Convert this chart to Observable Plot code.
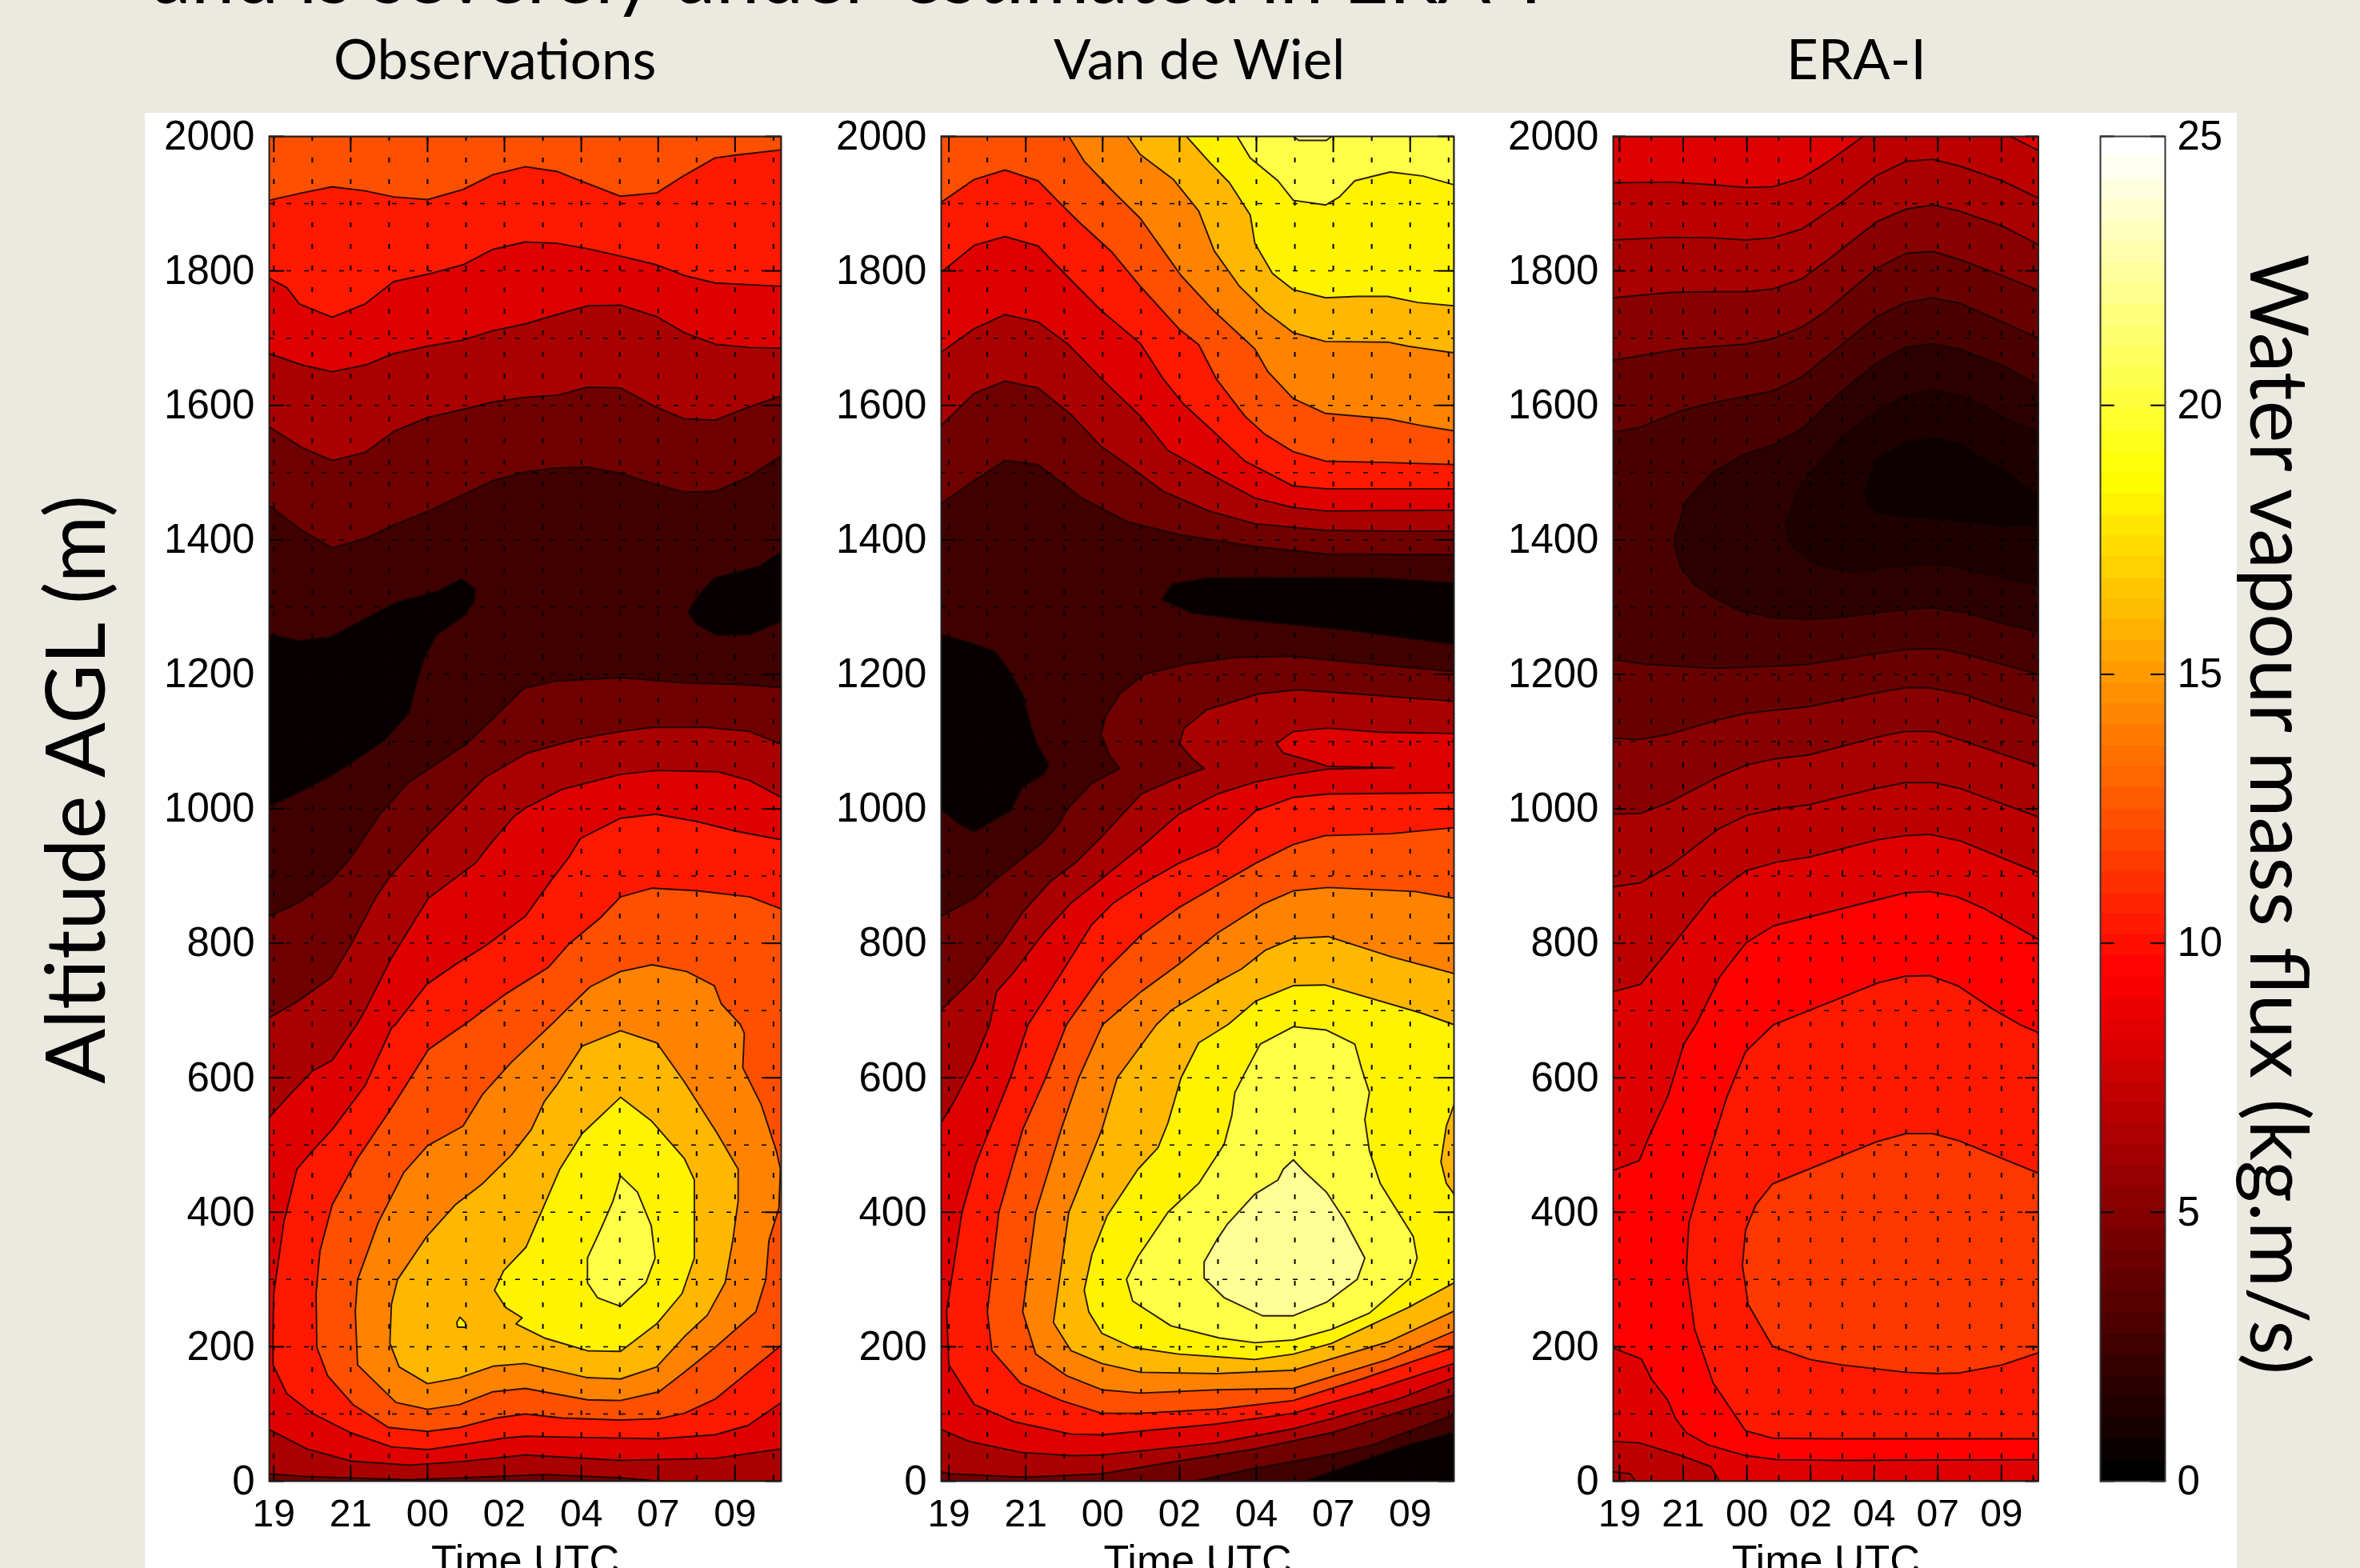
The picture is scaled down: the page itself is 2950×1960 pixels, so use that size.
<!DOCTYPE html>
<html><head><meta charset="utf-8">
<script src="https://cdn.jsdelivr.net/npm/d3@7"></script>
<script src="https://cdn.jsdelivr.net/npm/@observablehq/plot@0.6"></script>
<style>
html,body{margin:0;padding:0;width:2950px;height:1960px;overflow:hidden;background:#eceae0;}
#page{position:relative;width:2950px;height:1960px;overflow:hidden;}
#sheet{position:absolute;left:181px;top:141px;width:2615px;height:1819px;background:#fff;}
.t{position:absolute;font-family:Lato,sans-serif;color:#000;white-space:nowrap;line-height:1;}
.panel{position:absolute;top:141px;filter:blur(0.7px);}
</style></head><body><div id="page"><div id="sheet"></div></div>
<script>
// axis labels
const timeLabels = ["19","21","00","02","04","07","09"];
const timeTicks = [0,1,2,3,4,5,6];
const halfTicks = [0,.5,1,1.5,2,2.5,3,3.5,4,4.5,5,5.5,6,6.5];
const altTicks = [0,200,400,600,800,1000,1200,1400,1600,1800,2000];
const altGrid = [100,200,300,400,500,600,700,800,900,1000,1100,1200,1300,1400,1500,1600,1700,1800,1900];
const barTicks = [0,5,10,15,20,25];

// flux level (colour value) of each filled band
const obsLevels = {black:.3, l2:2.35, l4:4.1, l6:6.25, l8:8.2, l10:10.3, l12:12.3, l14:14.2, l16:16.1, l18:18.3, l20:20.5, l22:22.4};
const eraLevels = {a:.55, b:1.1, c:1.65, d:2.75, e:3.85, f:5, g:6.25, h:6.9, i:8.2, j:9.4, k:10.3, m:11.4};

// Observations: isolines as [time tick, altitude m]
const obsBlobA = [[-.06,1259],[.34,1250],[.745,1256],[1.13,1279],[1.51,1302],[1.625,1308],[2.12,1323],[2.44,1342],[2.62,1327],[2.6,1307],[2.46,1286],[2.12,1259],[1.96,1225],[1.87,1193],[1.76,1143],[1.44,1102],[1.08,1074],[.77,1051],[.32,1024],[-.06,1004]];
const obsBlobB = [[6.6,1382],[6.32,1361],[5.73,1343],[5.51,1316],[5.39,1293],[5.49,1275],[5.76,1258],[6.19,1259],[6.6,1279]];
const obsU12 = [[-.06,1905],[.365,1916],[.76,1925],[1.19,1919],[1.56,1910],[2,1906],[2.46,1921],[2.85,1943],[3.27,1955],[3.68,1948],[4.08,1930],[4.51,1911],[4.98,1916],[5.34,1942],[5.74,1968],[6,1972],[6.6,1980]];
const obsU10 = [[-.06,1789],[.17,1775],[.33,1751],[.76,1731],[1.19,1751],[1.56,1784],[2,1795],[2.46,1809],[2.85,1832],[3.27,1843],[3.68,1841],[4.08,1833],[4.51,1822],[4.98,1809],[5.34,1793],[5.74,1782],[6.6,1777]];
const obsU8 = [[-.06,1677],[.365,1660],[.76,1650],[1.19,1660],[1.56,1677],[2,1688],[2.46,1697],[2.85,1711],[3.27,1721],[3.68,1735],[4.08,1748],[4.51,1749],[4.98,1732],[5.34,1708],[5.74,1691],[6.17,1686],[6.6,1685]];
const obsU6 = [[-.06,1568],[.365,1537],[.76,1518],[1.19,1530],[1.56,1561],[2,1582],[2.46,1594],[2.85,1605],[3.27,1612],[3.68,1615],[4.08,1627],[4.51,1626],[4.98,1597],[5.34,1580],[5.74,1578],[6.17,1597],[6.6,1614]];
const obsU4 = [[-.06,1451],[.365,1414],[.76,1388],[1.19,1402],[1.56,1422],[2,1442],[2.46,1467],[2.85,1488],[3.27,1501],[3.68,1507],[4.08,1508],[4.51,1499],[4.98,1482],[5.34,1471],[5.74,1472],[6.17,1493],[6.6,1525]];
const obsL4 = [[-.06,840],[.316,860],[.745,894],[.993,926],[1.38,992],[1.76,1040],[2.12,1067],[2.51,1097],[2.84,1133],[3.25,1179],[3.66,1190],[4.51,1195],[5.37,1187],[6.09,1185],[6.6,1180]];
const obsL6top = [[-.06,689],[.316,714],[.745,749],[.993,796],[1.33,869],[1.51,899],[1.99,960],[2.35,1001],[2.75,1047],[3.3,1083],[3.97,1104],[4.51,1115],[4.92,1121],[5.64,1121],[6.19,1115],[6.6,1096]];
const obsL6bottom = [[5.01,0],[4.51,5],[3.52,10],[2.46,5],[1.76,2],[.43,7],[-.06,11]];
const obsL8top = [[-.06,541],[.17,570],[.5,610],[.76,626],[1,666],[1.08,679],[1.2,703],[1.53,778],[2.01,867],[2.62,919],[2.84,951],[3.12,988],[3.27,1001],[3.75,1029],[4.51,1051],[4.97,1057],[5.78,1055],[6.19,1042],[6.6,1017]];
const obsL8bottom = [[6.6,48],[5.74,34],[4.51,31],[3.27,39],[2.42,29],[1.76,24],[1,30],[.43,48],[-.06,77]];
const obsL10 = [[6.6,954],[6,967],[5.51,981],[4.97,992],[4.51,986],[3.99,956],[3.84,928],[3.61,894],[3.27,840],[2.75,796],[2.37,769],[1.99,739],[1.58,679],[1.53,674],[1.19,589],[.76,523],[.5,491],[.3,464],[.13,385],[0,279],[-.01,226],[-.01,173],[.17,130],[.5,101],[1,72],[1.53,51],[2,47],[2.49,55],[2.99,64],[3.27,67],[4.01,65],[5.01,63],[5.74,69],[6.17,83],[6.6,117]];
const obsL12 = [[6.6,851],[6.19,869],[5.51,878],[4.92,882],[4.51,869],[4.24,837],[3.84,799],[3.57,764],[3.02,725],[2.48,679],[2.01,642],[1.82,607],[1.56,560],[1.09,480],[.76,411],[.6,342],[.55,279],[.56,199],[.7,157],[1.03,114],[1.49,80],[2,74],[2.42,80],[2.89,94],[3.27,100],[3.75,94],[4.51,91],[5.01,93],[5.34,101],[5.74,122],[6.17,162],[6.6,202]];
const obsL14 = [[3.61,679],[3.09,623],[2.72,576],[2.46,528],[2,499],[1.69,459],[1.36,385],[1.09,300],[1.06,252],[1.09,173],[1.59,117],[2,107],[2.42,114],[2.85,133],[3.27,138],[4.08,121],[4.51,120],[5.01,133],[5.34,162],[5.74,199],[6.27,252],[6.4,300],[6.44,358],[6.57,406],[6.59,464],[6.54,490],[6.34,560],[6.1,615],[6.12,666],[6.07,679],[5.82,710],[5.73,737],[5.37,758],[4.92,768],[4.51,758],[4.11,735],[3.84,705],[3.61,679]];
const obsL16 = [[4.51,670],[4.98,652],[5.34,594],[5.77,517],[6.04,464],[6.04,417],[5.97,358],[5.87,295],[5.64,247],[5.34,215],[4.98,170],[4.51,152],[4.08,154],[3.27,175],[2.85,171],[2.42,154],[2,145],[1.63,170],[1.51,205],[1.53,263],[1.61,300],[1.99,364],[2.36,411],[2.72,443],[3.09,485],[3.35,523],[3.52,565],[3.68,589],[4.01,647],[4.51,670]];
const obsSpot = [[2.38,236],[2.42,244],[2.49,236],[2.5,229],[2.39,229],[2.38,236]];
const obsL18 = [[4.51,571],[4.91,536],[5.34,480],[5.47,448],[5.47,332],[5.31,279],[4.98,234],[4.51,193],[4.08,194],[3.52,213],[3.15,234],[3.23,243],[3.02,258],[2.87,284],[2.99,313],[3.28,348],[3.52,411],[3.72,464],[4.01,517],[4.51,571]];
const obsL20 = [[4.51,454],[4.73,430],[4.91,380],[4.96,332],[4.84,295],[4.51,260],[4.21,273],[4.08,295],[4.08,332],[4.25,374],[4.41,416],[4.51,454]];

// Van de Wiel
const vdwBlobA = [[6.57,1336],[5.61,1343],[4.48,1344],[3.35,1343],[2.9,1334],[2.77,1311],[3.17,1291],[3.8,1282],[5.16,1266],[6.57,1245]];
const vdwBlobB = [[-.1,1259],[.28,1247],[.6,1234],[.78,1206],[.96,1170],[1.05,1129],[1.14,1097],[1.3,1065],[1.23,1051],[.96,1033],[.8,997],[.33,966],[.15,976],[-.1,999]];
const vdwBlobC = [[6.57,72],[5.97,54],[4.98,14],[4.64,0]];
const vdwU22 = [[4.48,2000],[4.55,1994],[4.91,1994],[4.98,2000]];
const vdwU20 = [[3.75,2000],[3.92,1968],[4.28,1934],[4.48,1905],[4.9,1898],[5.08,1910],[5.28,1934],[5.74,1947],[6.17,1941],[6.57,1928]];
const vdwU18 = [[3.09,2000],[3.38,1963],[3.65,1931],[3.92,1883],[3.98,1841],[4.21,1796],[4.48,1772],[4.9,1760],[5.31,1762],[5.71,1762],[6.1,1753],[6.57,1748]];
const vdwU16 = [[2.32,2000],[2.49,1973],[2.92,1936],[3.25,1889],[3.45,1830],[3.78,1777],[4.11,1740],[4.48,1708],[4.9,1695],[5.71,1694],[5.97,1688],[6.57,1678]];
const vdwU14 = [[1.56,2000],[1.76,1963],[2.12,1920],[2.49,1878],[2.79,1830],[3.02,1793],[3.45,1740],[3.98,1684],[4.15,1650],[4.48,1610],[4.9,1588],[5.71,1580],[6.14,1570],[6.57,1562]];
const vdwU12 = [[-.1,1902],[.33,1936],[.73,1950],[1.16,1934],[1.46,1899],[1.69,1873],[2.12,1828],[2.49,1777],[2.99,1714],[3.25,1690],[3.48,1639],[3.85,1584],[4.11,1557],[4.48,1531],[4.9,1517],[5.71,1515],[6.57,1512]];
const vdwU10 = [[-.1,1798],[.33,1838],[.73,1851],[1.16,1837],[1.53,1793],[1.99,1740],[2.49,1692],[2.79,1639],[3.05,1602],[3.45,1560],[3.85,1517],[4.48,1480],[4.9,1476],[6.57,1476]];
const vdwU8 = [[-.1,1679],[.33,1714],[.73,1735],[1.16,1724],[1.56,1690],[1.99,1639],[2.49,1584],[2.85,1533],[3.38,1499],[3.98,1462],[4.48,1448],[4.9,1443],[6.57,1444]];
const vdwU6 = [[-.1,1570],[.33,1618],[.73,1636],[1.16,1626],[1.59,1586],[1.99,1538],[2.32,1512],[2.79,1472],[3.38,1443],[3.98,1424],[4.9,1414],[5.71,1413],[6.57,1413]];
const vdwU4 = [[-.1,1454],[.33,1488],[.73,1518],[1.16,1512],[1.73,1462],[2.32,1427],[2.99,1408],[3.98,1390],[4.9,1379],[6.57,1378]];
const vdwL4 = [[-.1,840],[.33,867],[.65,899],[1.23,951],[1.44,979],[1.55,1001],[1.86,1038],[2.22,1060],[2.09,1079],[1.98,1111],[2.04,1138],[2.23,1172],[2.54,1200],[3.08,1215],[3.72,1225],[4.44,1227],[5.16,1219],[6.57,1204],[6.57,99],[5.51,54],[4.98,40],[3.98,19],[3.19,0]];
const vdwL6 = [[-.1,701],[.33,749],[.69,801],[.96,846],[1.32,892],[1.64,919],[2,960],[2.5,1022],[2.9,1042],[3.32,1060],[3.17,1074],[3,1097],[3.06,1120],[3.35,1147],[4.03,1171],[4.53,1177],[5.16,1172],[6.57,1160],[6.57,128],[5.97,107],[4.98,72],[3.98,48],[2.99,30],[1.99,11],[1,6],[0,11],[-.1,14]];
const vdwL8 = [[-.1,533],[.07,565],[.33,623],[.53,679],[.62,728],[.83,755],[1.23,815],[1.59,860],[2,897],[2.54,947],[2.99,992],[3.49,1022],[3.99,1040],[4.48,1051],[4.93,1059],[5.79,1061],[4.93,1063],[4.75,1070],[4.35,1083],[4.26,1097],[4.48,1115],[4.93,1120],[5.61,1114],[6.57,1112],[6.57,154],[5.84,122],[4.98,93],[4.48,78],[3.48,57],[1.99,39],[1.59,38],[.93,43],[.27,59],[-.1,77]];
const vdwL10 = [[6.57,1024],[4.93,1022],[4.48,1017],[3.99,997],[3.49,944],[2.99,919],[2.5,887],[2.14,860],[1.86,828],[1.46,755],[1.03,679],[.8,600],[.36,475],[.17,400],[-.03,252],[0,173],[.33,114],[.86,88],[1.59,70],[1.99,69],[3.48,85],[4.48,101],[5.37,130],[6.57,175]];
const vdwL12 = [[6.57,972],[5.75,963],[4.89,960],[4.48,947],[3.99,919],[2.99,853],[2.5,812],[2,755],[1.53,679],[1.26,600],[.96,523],[.65,400],[.5,252],[.56,194],[.93,146],[1.46,120],[1.99,101],[2.49,101],[3.48,107],[4.48,120],[5.37,152],[6.57,199]];
const vdwL14 = [[6.57,867],[6.06,877],[4.93,883],[4.48,878],[4.08,858],[3.49,815],[2.99,769],[2.5,728],[2,679],[1.69,600],[1.46,523],[1.13,400],[.96,252],[1.13,189],[1.53,157],[1.99,136],[2.49,131],[3.48,136],[4.48,138],[5.71,181],[6.57,223]];
const vdwL16 = [[6.57,755],[5.75,780],[4.93,810],[4.48,807],[4.12,790],[3.81,762],[3.49,742],[2.9,701],[2.7,679],[2.19,600],[1.99,523],[1.56,400],[1.36,236],[1.59,194],[1.99,175],[2.49,162],[3.48,160],[4.48,165],[5.71,207],[6.57,253]];
const vdwL18 = [[6.57,679],[6.15,696],[4.89,738],[4.48,737],[3.99,714],[3.63,679],[3.25,652],[3.02,600],[2.85,533],[2.72,496],[2.46,464],[2.06,395],[1.86,337],[1.76,284],[1.82,252],[1.99,220],[2.39,199],[2.99,189],[3.98,181],[4.48,189],[4.98,205],[5.97,258],[6.57,295]];
const vdwNotch = [[6.57,560],[6.47,528],[6.42,491],[6.4,475],[6.47,443],[6.57,427]];
const vdwL20 = [[4.48,676],[4.91,671],[5.28,650],[5.37,613],[5.47,578],[5.41,538],[5.47,491],[5.61,443],[6.04,364],[6.09,332],[6.01,303],[5.47,250],[4.98,226],[4.48,210],[3.98,206],[3.52,213],[2.89,231],[2.39,268],[2.31,300],[2.46,334],[2.85,400],[3.25,443],[3.58,501],[3.68,544],[3.72,578],[3.85,607],[4.05,650],[4.48,676]];
const vdwL22 = [[4.48,478],[4.61,462],[4.91,430],[5.14,390],[5.41,332],[5.31,300],[4.91,266],[4.48,246],[4.08,246],[3.58,273],[3.32,302],[3.32,326],[3.48,358],[3.62,382],[3.98,427],[4.28,448],[4.35,464],[4.48,478]];

// ERA-I
const eraTop1 = [[-.1,1931],[.8,1932],[1.47,1928],[1.98,1924],[2.4,1925],[2.86,1938],[3.24,1960],[3.83,2000]];
const eraTop2 = [[6.14,2000],[6.58,1979]];
const eraU2 = [[-.1,1846],[.8,1850],[1.47,1849],[1.98,1846],[2.4,1849],[2.86,1862],[3.49,1902],[4.04,1942],[4.5,1963],[4.92,1966],[5.34,1956],[6.01,1934],[6.58,1908]];
const eraU3 = [[-.1,1760],[.8,1768],[1.47,1769],[1.98,1769],[2.4,1773],[2.86,1788],[3.24,1814],[4.04,1873],[4.5,1892],[4.92,1898],[5.34,1889],[6.01,1867],[6.58,1839]];
const eraU4 = [[-.1,1667],[.97,1684],[1.98,1691],[2.4,1699],[2.86,1716],[3.24,1740],[4.04,1804],[4.5,1826],[4.92,1829],[5.34,1817],[6.01,1793],[6.58,1771]];
const eraU5 = [[-.1,1560],[.31,1567],[.97,1592],[1.47,1604],[2.4,1621],[2.86,1642],[3.49,1690],[4.04,1732],[4.5,1753],[4.92,1760],[5.34,1752],[6.01,1724],[6.58,1700]];
const eraL5 = [[-.1,1222],[.41,1215],[1.5,1209],[2.42,1212],[2.97,1215],[4.06,1231],[4.49,1237],[5.04,1238],[5.47,1229],[6.58,1200]];
const eraL4 = [[-.1,1105],[.3,1103],[.79,1111],[1.5,1131],[1.99,1142],[2.97,1152],[4.06,1173],[4.49,1180],[4.87,1180],[5.42,1170],[5.96,1152],[6.58,1135]];
const eraL3 = [[-.1,992],[.33,993],[.79,1010],[1.5,1045],[1.99,1065],[2.42,1074],[2.97,1080],[4.06,1107],[4.49,1115],[4.93,1115],[5.47,1099],[6.58,1063]];
const eraL2 = [[-.1,884],[.33,890],[.79,915],[1.55,970],[1.99,990],[2.48,1000],[2.97,1006],[4.06,1031],[4.49,1039],[4.93,1039],[5.36,1030],[6.58,988]];
const eraCorner2 = [[.25,0],[.17,11],[-.1,14]];
const eraL1 = [[-.1,728],[.33,739],[.73,785],[1.44,869],[1.99,908],[2.48,921],[2.97,928],[4.06,954],[4.49,960],[4.87,962],[5.36,952],[6.58,905]];
const eraCorner1 = [[1.57,0],[1.43,22],[.97,38],[.31,57],[-.1,59]];
const eraRed = [[-.1,462],[.31,477],[.46,512],[.76,573],[1.01,650],[1.2,679],[1.58,751],[1.99,801],[2.42,826],[4.06,865],[4.49,875],[4.87,877],[5.31,869],[5.74,851],[6.58,806],[6.58,32],[3.49,31],[2.48,32],[1.98,38],[1.39,54],[1.05,72],[.88,93],[.76,120],[.5,152],[.34,182],[-.1,198]];
const eraOrange1 = [[6.58,667],[6.29,679],[5.85,703],[5.31,737],[4.87,752],[4.49,751],[4.06,741],[2.42,679],[1.98,639],[1.68,570],[1.35,470],[1.09,385],[1.05,316],[1.18,226],[1.47,146],[1.98,75],[2.4,64],[3.49,63],[6.58,63]];
const eraOrange2 = [[6.58,458],[6.01,480],[5.34,506],[4.92,517],[4.5,517],[4.04,505],[2.4,442],[2.14,411],[1.98,374],[1.93,321],[2.02,263],[2.4,201],[2.99,181],[3.49,173],[4.5,162],[5,160],[5.34,161],[6.01,173],[6.58,191]];
const eraDark1 = [[6.58,1630],[6.01,1660],[5.34,1684],[4.92,1692],[4.5,1687],[4.04,1663],[3.49,1621],[2.86,1565],[2.4,1541],[1.98,1528],[1.47,1501],[1.05,1459],[.87,1406],[.86,1393],[.95,1361],[1.17,1334],[1.5,1313],[1.88,1295],[2.42,1284],[2.97,1282],[3.51,1285],[4.06,1292],[4.6,1297],[4.87,1299],[5.42,1292],[5.96,1277],[6.58,1263]];
const eraDark2 = [[6.58,1560],[6.01,1584],[5.34,1615],[4.92,1623],[4.5,1615],[4.04,1592],[3.49,1554],[2.82,1480],[2.61,1422],[2.67,1393],[2.97,1370],[3.29,1357],[3.67,1353],[4.06,1357],[4.49,1361],[4.87,1364],[5.25,1360],[5.96,1345],[6.58,1332]];
const eraDark3 = [[3.83,1469],[4.04,1523],[4.5,1546],[4.92,1553],[5.34,1544],[6.01,1507],[6.58,1467],[6.58,1422],[6.14,1419],[4.92,1430],[4.04,1438],[3.87,1454],[3.83,1469]];

// hot colour map
const hotDomain = [0,9.375,18.75,25];
const hotRange = ["#000000","#ff0000","#ffff00","#ffffff"];
const colorOpt = {type:"linear",domain:hotDomain,range:hotRange,clamp:true};

const altTop = 2000, altBot = 0;
function corners(d){return {TL:[d[0],altTop],TR:[d[1],altTop],BL:[d[0],altBot],BR:[d[1],altBot]};}
const d1=[-.06,6.6], d2=[-.1,6.57], d3=[-.1,6.58];
const c1=corners(d1), c2=corners(d2), c3=corners(d3);
const O=obsLevels, E=eraLevels;
const obsPolys = [
 [O.l2,[c1.BL,c1.TL,c1.TR,c1.BR]],
 [O.black,obsBlobA],[O.black,obsBlobB],
 [O.l4,[...obsU4,c1.TR,c1.TL]],[O.l4,[...obsL4,c1.BR,c1.BL]],
 [O.l6,[...obsU6,c1.TR,c1.TL]],[O.l6,[...obsL6top,c1.BR,...obsL6bottom]],
 [O.l8,[...obsU8,c1.TR,c1.TL]],[O.l8,[...obsL8top,...obsL8bottom]],
 [O.l10,[...obsU10,c1.TR,c1.TL]],[O.l10,obsL10],
 [O.l12,[...obsU12,c1.TR,c1.TL]],[O.l12,obsL12],
 [O.l14,obsL14],[O.l16,obsL16],[O.l18,obsSpot],[O.l18,obsL18],[O.l20,obsL20]
];
const vdwPolys = [
 [O.l2,[c2.BL,c2.TL,c2.TR,c2.BR]],
 [O.black,vdwBlobA],[O.black,vdwBlobB],[O.black,[...vdwBlobC,c2.BR]],
 [O.l4,[...vdwU4,c2.TR,c2.TL]],[O.l4,[...vdwL4,c2.BL]],
 [O.l6,[...vdwU6,c2.TR,c2.TL]],[O.l6,vdwL6],
 [O.l8,[...vdwU8,c2.TR,c2.TL]],[O.l8,vdwL8],
 [O.l10,[...vdwU10,c2.TR,c2.TL]],[O.l10,vdwL10],
 [O.l12,[...vdwU12,c2.TR,c2.TL]],[O.l12,vdwL12],
 [O.l14,[...vdwU14,c2.TR]],[O.l14,vdwL14],
 [O.l16,[...vdwU16,c2.TR]],[O.l16,vdwL16],
 [O.l18,[...vdwU18,c2.TR]],[O.l18,vdwL18],
 [O.l16,vdwNotch],
 [O.l20,[...vdwU20,c2.TR]],[O.l20,vdwL20],
 [O.l22,vdwU22],[O.l22,vdwL22]
];
const eraPolys = [
 [E.d,[c3.BL,c3.TL,c3.TR,c3.BR]],
 [E.e,[...eraU5,c3.TR,c3.TL]],[E.e,[...eraL5,c3.BR,c3.BL]],
 [E.f,[...eraU4,c3.TR,c3.TL]],[E.f,[...eraL4,c3.BR,c3.BL]],
 [E.g,[...eraU3,c3.TR,c3.TL]],[E.g,[...eraL3,c3.BR,c3.BL]],
 [E.h,[...eraU2,c3.TR,c3.TL]],[E.h,[...eraL2,c3.BR,...eraCorner2]],
 [E.i,[...eraTop1,c3.TL]],[E.i,[...eraTop2,c3.TR]],[E.i,[...eraL1,c3.BR,...eraCorner1]],
 [E.j,eraRed],[E.k,eraOrange1],[E.m,eraOrange2],
 [E.c,eraDark1],[E.b,eraDark2],[E.a,eraDark3]
];
function rows(polys){const out=[];polys.forEach(([level,pts],i)=>pts.forEach(([t,a])=>out.push({t,a,level,poly:i})));return out;}

const fontTicks = "Liberation Sans";
function panel(polys,domain,left,width){
  const mL=170, mT=29, H=1819;
  const svg = Plot.plot({
    width:width+mL+2,height:H,marginLeft:mL,marginRight:2,marginTop:mT,marginBottom:H-mT-1681,
    x:{domain,axis:null}, y:{domain:[0,2000],axis:null},
    color:colorOpt,
    style:{fontFamily:fontTicks,background:"transparent",maxWidth:"none",overflow:"hidden",color:"#000"},
    marks:[
      Plot.line(rows(polys),{x:"t",y:"a",z:"poly",fill:"level",stroke:"#120600",strokeWidth:1.9,strokeOpacity:.9,curve:"linear",clip:true}),
      Plot.ruleX(halfTicks,{stroke:"#000",strokeWidth:2,strokeDasharray:"6 21"}),
      Plot.ruleY(altGrid,{stroke:"#000",strokeWidth:1.5,strokeDasharray:"6 16"}),
      Plot.ruleX(timeTicks,{y1:0,y2:24,stroke:"#000",strokeWidth:2}),
      Plot.ruleX(timeTicks,{y1:1976,y2:2000,stroke:"#000",strokeWidth:2}),
      Plot.ruleY(altTicks,{x1:domain[0],x2:domain[0]+.2,stroke:"#000",strokeWidth:2}),
      Plot.ruleY(altTicks,{x1:domain[1]-.2,x2:domain[1],stroke:"#000",strokeWidth:2}),
      Plot.frame({stroke:"#222",strokeWidth:2}),
      Plot.axisY(altTicks,{tickSize:0,tickPadding:18,fontSize:51,label:null,tickFormat:d=>String(d)}),
      Plot.axisX(timeTicks,{tickSize:0,tickPadding:22,fontSize:48,tickFormat:i=>timeLabels[i],label:null}),
      Plot.text(["Time UTC"],{frameAnchor:"bottom",lineAnchor:"top",dy:80,fontSize:52})
    ]
  });
  svg.classList.add("panel");
  svg.style.left=(left-mL)+"px";
  document.getElementById("page").appendChild(svg);
}
panel(obsPolys,d1,335.5,640);
panel(vdwPolys,d2,1175.5,641);
panel(eraPolys,d3,2016,531.5);

// colour bar: 64 steps of the colour map
const barSteps = Array.from({length:64},(_,i)=>i);
(function(){
  const mL=2,mT=29,W=81,H=1681;
  const svg=Plot.plot({
    width:mL+W+95,height:H+mT+30,marginLeft:mL,marginRight:95,marginTop:mT,marginBottom:30,
    x:{domain:[0,1],axis:null},y:{domain:[0,25],axis:null},color:colorOpt,
    style:{fontFamily:fontTicks,background:"transparent",maxWidth:"none",color:"#000"},
    marks:[
      Plot.rect(barSteps,{x1:0,x2:1,y1:i=>i*25/64,y2:i=>(i+1)*25/64,fill:i=>i*25/63,shapeRendering:"crispEdges"}),
      Plot.ruleY(barTicks,{x1:0,x2:.22,stroke:"#000",strokeWidth:2}),
      Plot.ruleY(barTicks,{x1:.78,x2:1,stroke:"#000",strokeWidth:2}),
      Plot.frame({stroke:"#333",strokeWidth:2}),
      Plot.axisY(barTicks,{anchor:"right",tickSize:0,tickPadding:15,fontSize:51,label:null,tickFormat:d=>String(d)})
    ]
  });
  svg.classList.add("panel");
  svg.style.left=(2624.5-mL)+"px";
  document.getElementById("page").appendChild(svg);
})();

// slide text
function text(s,css){const e=document.createElement("div");e.className="t";e.textContent=s;Object.assign(e.style,css);document.getElementById("page").appendChild(e);}
text("and is severely under-estimated in ERA-I",{left:"190px",top:"-83px",fontSize:"98px"});
text("Observations",{left:"417px",top:"38px",fontSize:"69px"});
text("Van de Wiel",{left:"1317px",top:"38px",fontSize:"69px"});
text("ERA-I",{left:"2233px",top:"38px",fontSize:"69px"});
text("Altitude AGL (m)",{left:"92px",top:"987px",fontSize:"102px",transform:"translate(-50%,-50%) rotate(-90deg)"});
text("Water vapour mass flux (kg.m/s)",{left:"2852px",top:"1018px",fontSize:"100px",transform:"translate(-50%,-50%) rotate(90deg)"});
</script></body></html>
